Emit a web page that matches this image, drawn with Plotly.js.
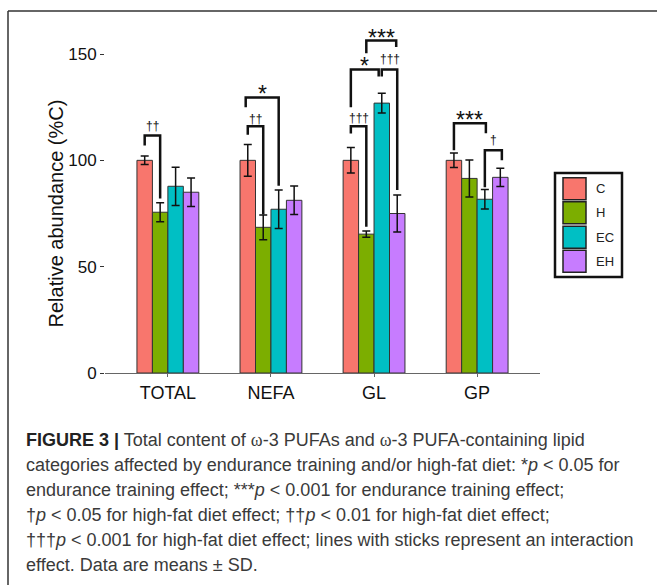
<!DOCTYPE html>
<html>
<head>
<meta charset="utf-8">
<script src="https://cdn.plot.ly/plotly-3.0.1.min.js"></script>
<style>html,body{margin:0;padding:0;background:#fff;}#chart{width:657px;height:585px;}</style>
</head>
<body>
<div id="chart"></div>
<script>
// ---- data ----
const categories = ['TOTAL', 'NEFA', 'GL', 'GP'];
const groupNames = ['C', 'H', 'EC', 'EH'];
const groupColors = ['#F8766D', '#7CAE00', '#00BFC4', '#C77CFF'];
const meanC  = [100, 100, 100, 100];
const sdC    = [2.0, 7.5, 6.0, 3.4];
const meanH  = [75.6, 68.5, 65.3, 91.5];
const sdH    = [4.5, 5.8, 1.5, 8.7];
const meanEC = [87.8, 77.0, 126.9, 81.7];
const sdEC   = [9.0, 9.0, 4.7, 4.6];
const meanEH = [85.0, 81.2, 75.0, 92.0];
const sdEH   = [6.7, 6.7, 8.7, 4.3];
const yTickVals = [0, 50, 100, 150];

// significance brackets: group, left bar, right bar, label
const brackets = [
  {g: 0, a: 0, b: 1, label: '††'},
  {g: 1, a: 0, b: 1, label: '††'},
  {g: 1, a: 0, b: 2, label: '*'},
  {g: 2, a: 0, b: 1, label: '†††'},
  {g: 2, a: 0, b: 2, label: '*'},
  {g: 2, a: 2, b: 3, label: '†††'},
  {g: 2, a: 1, b: 3, label: '***'},
  {g: 3, a: 0, b: 2, label: '***'},
  {g: 3, a: 2, b: 3, label: '†'}
];
// bracket geometry (data units): top, left-leg bottom, right-leg bottom, label y, x nudges
const bracketGeom = [
  {top: 111.7, aBot: 107.0, bBot: 82.0, ly: 116.0, da: 0, db: 0},
  {top: 116.0, aBot: 112.0, bBot: 74.5, ly: 119.5, da: 0, db: 0},
  {top: 129.6, aBot: 125.0, bBot: 88.0, ly: 131.0, da: -0.02, db: 0},
  {top: 116.0, aBot: 112.6, bBot: 68.8, ly: 120.0, da: 0, db: 0},
  {top: 142.7, aBot: 125.0, bBot: 139.4, ly: 144.2, da: 0, db: -0.03},
  {top: 142.7, aBot: 139.4, bBot: 86.0, ly: 147.5, da: 0, db: 0},
  {top: 156.3, aBot: 150.4, bBot: 153.3, ly: 157.3, da: 0, db: -0.01},
  {top: 117.4, aBot: 104.7, bBot: 112.7, ly: 118.8, da: 0, db: 0.01},
  {top: 104.7, aBot: 87.3, bBot: 100.0, ly: 109.5, da: 0, db: 0.015}
];

// ---- layout helpers ----
const W = 657, H = 585;
const L = 105, R = 540, T = 21, B = 373;
const px = x => (x - L) / (R - L);
const py = y => (B - y) / (B - T);
const barW = 0.6 / 4;
const barX = (g, j) => g + (j - 1.5) * barW;

const means = [meanC, meanH, meanEC, meanEH];
const sds = [sdC, sdH, sdEC, sdEH];

const traces = groupNames.map((name, i) => ({
  type: 'bar',
  name: name,
  x: categories,
  y: means[i],
  marker: {color: groupColors[i], line: {color: '#333', width: 1}},
  error_y: {type: 'data', array: sds[i], visible: true, color: '#111', thickness: 1.5, width: 4},
  showlegend: false
}));

const shapes = [];
const annotations = [];
const lineStyle = {color: '#111', width: 2.5};

brackets.forEach((br, k) => {
  const gm = bracketGeom[k];
  const xa = barX(br.g, br.a) + gm.da;
  const xb = barX(br.g, br.b) + gm.db;
  shapes.push({type: 'path', xref: 'x', yref: 'y',
    path: `M ${xa} ${gm.aBot} L ${xa} ${gm.top} L ${xb} ${gm.top} L ${xb} ${gm.bBot}`,
    line: lineStyle});
  const isStar = br.label.indexOf('*') >= 0;
  annotations.push({xref: 'x', yref: 'y', x: (xa + xb) / 2, y: gm.ly,
    text: br.label, showarrow: false, xanchor: 'center', yanchor: 'middle',
    font: {family: 'Liberation Sans, Arial, sans-serif', size: isStar ? 23 : 12, color: '#111'}});
});

// custom legend
shapes.push({type: 'rect', xref: 'paper', yref: 'paper',
  x0: px(555), x1: px(622), y0: py(277), y1: py(173),
  line: {color: '#111', width: 2.5}, fillcolor: '#fff'});
const keyTops = [177.7, 201.7, 226.3, 250.2];
groupNames.forEach((name, i) => {
  const t = keyTops[i], b = t + 22;
  shapes.push({type: 'rect', xref: 'paper', yref: 'paper',
    x0: px(563), x1: px(586), y0: py(b), y1: py(t),
    line: {color: '#222', width: 1.5}, fillcolor: groupColors[i]});
  annotations.push({xref: 'paper', yref: 'paper', x: px(594), y: py((t + b) / 2),
    text: name, showarrow: false, xanchor: 'left', yanchor: 'middle',
    font: {family: 'Liberation Sans, Arial, sans-serif', size: 13, color: '#222'}});
});

// outer frame (left and top edges)
shapes.push({type: 'line', xref: 'paper', yref: 'paper', x0: px(8), x1: px(8), y0: py(590), y1: py(11), line: {color: '#333', width: 1.5}});
shapes.push({type: 'line', xref: 'paper', yref: 'paper', x0: px(8), x1: px(662), y0: py(11), y1: py(11), line: {color: '#333', width: 1.5}});

// y-axis title
annotations.push({xref: 'paper', yref: 'paper', x: px(55), y: py(213.5),
  text: 'Relative abundance (%C)', textangle: -90, showarrow: false,
  xanchor: 'center', yanchor: 'middle',
  font: {family: 'Liberation Sans, Arial, sans-serif', size: 20, color: '#111'}});

// caption
const capFont = {family: 'Liberation Sans Narrow, Arial Narrow, Liberation Sans, sans-serif', size: 18, color: '#3a3a3a'};
const om = '<span style="font-family:Liberation Serif, Times New Roman, serif">ω</span>';
const captionLines = [
  '<b style="color:#222">FIGURE 3 |</b> Total content of ' + om + '-3 PUFAs and ' + om + '-3 PUFA-containing lipid',
  'categories affected by endurance training and/or high-fat diet: *<i>p</i> &lt; 0.05 for',
  'endurance training effect; ***<i>p</i> &lt; 0.001 for endurance training effect;',
  '†<i>p</i> &lt; 0.05 for high-fat diet effect; ††<i>p</i> &lt; 0.01 for high-fat diet effect;',
  '†††<i>p</i> &lt; 0.001 for high-fat diet effect; lines with sticks represent an interaction',
  'effect. Data are means ± SD.'
];
captionLines.forEach((txt, i) => {
  annotations.push({xref: 'paper', yref: 'paper', x: px(24), y: py(440 + i * 25),
    text: txt, showarrow: false, xanchor: 'left', yanchor: 'middle', align: 'left',
    font: capFont});
});

const layout = {
  width: W, height: H,
  margin: {l: L, r: W - R, t: T, b: H - B, pad: 0},
  paper_bgcolor: '#fff', plot_bgcolor: '#fff',
  barmode: 'group', bargap: 0.4, bargroupgap: 0,
  font: {family: 'Liberation Sans, Arial, sans-serif', color: '#111'},
  xaxis: {
    type: 'category', range: [-0.61, 3.61],
    showline: true, linecolor: '#666', linewidth: 1,
    ticks: 'outside', ticklen: 3, tickcolor: '#666', tickwidth: 1,
    showgrid: false, zeroline: false,
    tickfont: {size: 18, color: '#111'}
  },
  yaxis: {
    range: [0, (B - T) / 2.1267],
    tickvals: yTickVals, ticktext: yTickVals.map(String),
    showline: false, showgrid: false, zeroline: false,
    ticks: 'outside', ticklen: 4, tickcolor: '#333', tickwidth: 1,
    tickfont: {size: 17, color: '#111'}
  },
  shapes: shapes,
  annotations: annotations
};

Plotly.newPlot('chart', traces, layout, {staticPlot: true, displayModeBar: false});
</script>
</body>
</html>
